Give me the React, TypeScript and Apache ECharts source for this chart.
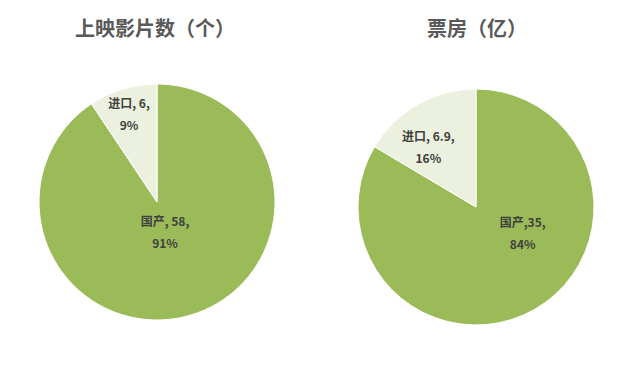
import React, { useEffect, useRef } from "react";
import * as echarts from "echarts";

const categories = ["国产", "进口"];
const filmCounts = [58, 6];
const boxOffice = [35, 6.9];
const titles = ["上映影片数（个）", "票房（亿）"];

const GREEN = "#9BBB59";
const LIGHT = "#EBF1DE";

export default function App() {
  const ref = useRef<HTMLDivElement>(null);
  useEffect(() => {
    document.body.style.margin = "0";
    const chart = echarts.init(ref.current!, null, { renderer: "svg" });
    const mk = (vals: number[]) =>
      categories.map((name, i) => ({
        name,
        value: vals[i],
        itemStyle: { color: i === 0 ? GREEN : LIGHT },
      }));
    const labelStyle = {
      show: true,
      position: "inside" as const,
      color: "#404040",
      fontSize: 12,
      fontWeight: "bold" as const,
      lineHeight: 22,
      fontFamily: "'Noto Sans CJK SC', sans-serif",
    };
    // offsets relative to the default inside position
    const offsets = [
      [
        [-10, -30],
        [-10, -29],
      ],
      [
        [16, -28],
        [-17, -7],
      ],
    ];
    const titleStyle = {
      color: "#595959",
      fontSize: 20,
      fontWeight: "bold" as const,
      fontFamily: "'Noto Sans CJK SC', sans-serif",
    };
    const option: any = {
      animation: false,
      backgroundColor: "#ffffff",
      title: [
        { text: titles[0], left: 150, top: 12, textAlign: "center", textStyle: titleStyle },
        { text: titles[1], left: 472, top: 12, textAlign: "center", textStyle: titleStyle },
      ],
      series: [
        {
          type: "pie",
          center: [157, 202],
          radius: [0, 118],
          startAngle: 90,
          clockwise: true,
          percentPrecision: 0,
          data: mk(filmCounts),
          itemStyle: { borderColor: "#ffffff", borderWidth: 1 },
          label: { ...labelStyle, formatter: "{b}, {c},\n{d}%" },
          labelLine: { show: false },
          emphasis: { disabled: true },
          labelLayout: (p: any) => ({
            dx: offsets[0][p.dataIndex][0],
            dy: offsets[0][p.dataIndex][1],
          }),
        },
        {
          type: "pie",
          center: [476, 207],
          radius: [0, 118],
          startAngle: 90,
          clockwise: true,
          percentPrecision: 0,
          data: mk(boxOffice),
          itemStyle: { borderColor: "#ffffff", borderWidth: 1 },
          label: {
            ...labelStyle,
            formatter: (p: any) =>
              p.dataIndex === 0
                ? `${p.name},${p.value},\n${p.percent}%`
                : `${p.name}, ${p.value},\n${p.percent}%`,
          },
          labelLine: { show: false },
          emphasis: { disabled: true },
          labelLayout: (p: any) => ({
            dx: offsets[1][p.dataIndex][0],
            dy: offsets[1][p.dataIndex][1],
          }),
        },
      ],
    };
    chart.setOption(option);
    return () => chart.dispose();
  }, []);
  return <div ref={ref} style={{ width: 640, height: 369 }} />;
}
